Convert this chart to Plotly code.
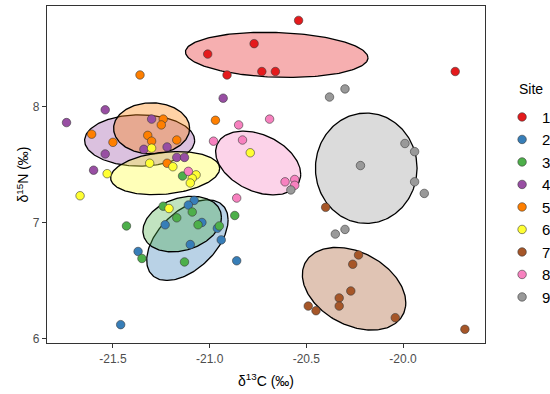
import numpy as np
import plotly.graph_objects as go

sites = ["1", "2", "3", "4", "5", "6", "7", "8", "9"]
colors = ["#E41A1C", "#377EB8", "#4DAF4A", "#984EA3", "#FF7F00",
          "#FFFF33", "#A65628", "#F781BF", "#999999"]

d13C = {
    "1": [-21.01, -20.77, -20.91, -20.73, -20.66, -20.54, -19.73],
    "2": [-21.08, -21.11, -21.23, -21.04, -20.96, -20.94, -21.10, -21.37, -20.86, -21.46],
    "3": [-21.14, -21.43, -21.24, -21.17, -21.09, -21.06, -20.95, -20.87, -21.13, -21.35],
    "4": [-21.54, -21.74, -21.30, -21.54, -21.60, -21.34, -21.22, -21.17, -21.13, -20.93],
    "5": [-21.36, -21.24, -21.25, -21.61, -21.50, -21.32, -21.30, -21.17, -20.97, -21.22],
    "6": [-21.30, -21.31, -21.19, -21.53, -21.67, -21.07, -21.09, -21.10, -21.21, -20.79],
    "7": [-20.23, -20.26, -20.27, -20.33, -20.33, -20.49, -20.45, -20.04, -19.68, -20.40],
    "8": [-21.11, -20.85, -20.69, -20.98, -20.83, -20.61, -20.56, -20.56, -20.86],
    "9": [-20.38, -20.30, -19.99, -19.94, -20.22, -19.94, -19.89, -20.58, -20.35, -20.30],
}
d15N = {
    "1": [8.45, 8.54, 8.27, 8.30, 8.30, 8.74, 8.30],
    "2": [7.19, 7.15, 6.98, 7.00, 6.95, 6.85, 6.81, 6.75, 6.67, 6.12],
    "3": [7.40, 6.97, 7.14, 7.04, 7.09, 6.98, 6.97, 7.06, 6.66, 6.69],
    "4": [7.97, 7.86, 7.89, 7.59, 7.45, 7.63, 7.65, 7.56, 7.56, 8.07],
    "5": [8.27, 7.89, 7.84, 7.76, 7.69, 7.75, 7.70, 7.71, 7.88, 7.51],
    "6": [7.64, 7.51, 7.48, 7.42, 7.23, 7.41, 7.38, 7.34, 7.12, 7.60],
    "7": [6.72, 6.64, 6.41, 6.35, 6.28, 6.28, 6.24, 6.18, 6.08, 7.13],
    "8": [7.44, 7.84, 7.89, 7.70, 7.71, 7.35, 7.37, 7.32, 7.21],
    "9": [8.08, 8.15, 7.68, 7.61, 7.49, 7.35, 7.25, 7.28, 6.90, 6.94],
}

# Standard ellipse parameters per site: centre, SD in x, SD in y, correlation
ell_cx = [-20.653, -21.115, -21.142, -21.362, -21.300, -21.230, -20.253, -20.749, -20.190]
ell_cy = [8.443, 6.848, 6.986, 7.706, 7.810, 7.425, 6.429, 7.512, 7.467]
ell_sx = [0.472, 0.2105, 0.203, 0.2845, 0.1966, 0.282, 0.2674, 0.220, 0.2628]
ell_sy = [0.1945, 0.3474, 0.2394, 0.2204, 0.2204, 0.1858, 0.3561, 0.2748, 0.4754]
ell_rho = [-0.13, 0.5, 0.25, 0.0, 0.0, 0.22, -0.34, -0.35, 0.0]

x_ticks = [-21.5, -21.0, -20.5, -20.0]
y_ticks = [6, 7, 8]


def rgba(hexc, a):
    h = hexc.lstrip("#")
    r, g, b = int(h[0:2], 16), int(h[2:4], 16), int(h[4:6], 16)
    return f"rgba({r},{g},{b},{a})"


fig = go.Figure()
t = np.linspace(0, 2 * np.pi, 200)
for i, s in enumerate(sites):
    r = ell_rho[i]
    ex = ell_cx[i] + ell_sx[i] * np.cos(t)
    ey = ell_cy[i] + ell_sy[i] * (r * np.cos(t) + np.sqrt(1 - r * r) * np.sin(t))
    fig.add_trace(go.Scatter(
        x=ex, y=ey, mode="lines", fill="toself",
        fillcolor=rgba(colors[i], 0.35),
        line=dict(color="black", width=1.3),
        showlegend=False, hoverinfo="skip"))

for i, s in enumerate(sites):
    fig.add_trace(go.Scatter(
        x=d13C[s], y=d15N[s], mode="markers", name=s,
        marker=dict(size=8.5, color=colors[i],
                    line=dict(color="#3a3a3a", width=0.6))))

fig.update_layout(
    width=550, height=394,
    margin=dict(l=47, r=65, t=6, b=51, autoexpand=False),
    paper_bgcolor="white", plot_bgcolor="white",
    font=dict(family="Liberation Sans, Arial, sans-serif", size=13, color="black"),
    legend=dict(font=dict(size=15), x=1.039, y=0.719, yanchor="top",
                xanchor="left", itemwidth=30, tracegroupgap=0),
    annotations=[dict(text="Site", xref="paper", yref="paper",
                      x=1.073, y=0.754, xanchor="left", yanchor="middle",
                      showarrow=False, font=dict(size=14))],
)
fig.update_xaxes(
    range=[-21.841, -19.576], tickvals=x_ticks,
    ticktext=[f"{v:.1f}" for v in x_ticks],
    showgrid=False, zeroline=False, showline=True, mirror=True,
    linecolor="#333333", linewidth=1.2, ticks="outside", ticklen=4,
    tickcolor="#333333", tickfont=dict(size=12, color="#4D4D4D"),
    title=dict(text="δ<sup>13</sup>C (‰)", font=dict(size=14), standoff=11))
fig.update_yaxes(
    range=[5.962, 8.864], tickvals=y_ticks,
    ticktext=[str(v) for v in y_ticks],
    showgrid=False, zeroline=False, showline=True, mirror=True,
    linecolor="#333333", linewidth=1.2, ticks="outside", ticklen=4,
    tickcolor="#333333", tickfont=dict(size=12, color="#4D4D4D"),
    title=dict(text="δ<sup>15</sup>N (‰)", font=dict(size=14), standoff=0))

fig.write_html("out.html", config={"displayModeBar": False},
               post_script="document.body.style.margin='0';")
